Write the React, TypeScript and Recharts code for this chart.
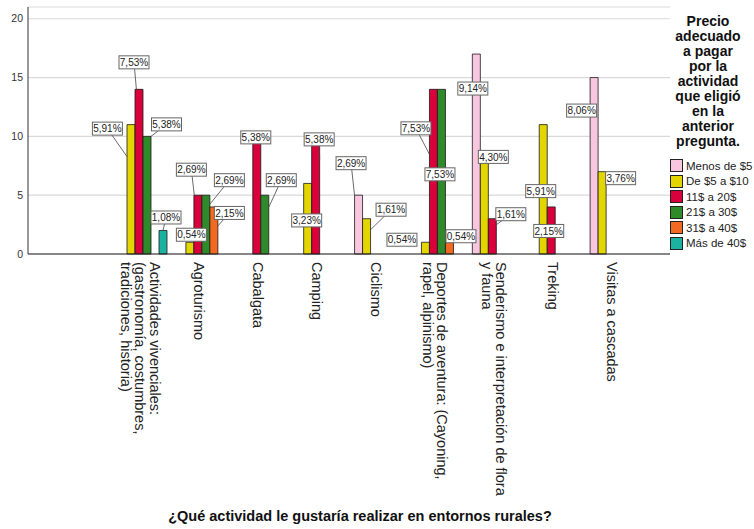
import React from 'react';
import { BarChart, Bar, XAxis, YAxis, CartesianGrid, LabelList } from 'recharts';

const CATEGORIES = [
  'Actividades vivenciales:\n(gastronomía, costumbres,\ntradiciones, historia)',
  'Agroturismo',
  'Cabalgata',
  'Camping',
  'Ciclismo',
  'Deportes de aventura: (Cayoning,\nrapel, alpinismo)',
  'Senderismo e interpretación de flora\ny fauna',
  'Treking',
  'Visitas a cascadas',
];

// counts per price range (null = no bar)
const MENOS_5 = [null, null, null, null, 5, null, 17, null, 15];
const DE_5_A_10 = [11, 1, null, 6, 3, 1, 8, 11, 7];
const DE_11_A_20 = [14, 5, 10, 10, null, 14, 3, 4, null];
const DE_21_A_30 = [10, 5, 5, null, null, 14, null, null, null];
const DE_31_A_40 = [null, 4, null, null, null, 1, null, null, null];
const MAS_40 = [2, null, null, null, null, null, null, null, null];

const SERIES = [
  { key: 's0', name: 'Menos de $5', values: MENOS_5, color: '#f9c6df' },
  { key: 's1', name: 'De $5 a $10', values: DE_5_A_10, color: '#e2d500' },
  { key: 's2', name: '11$ a 20$', values: DE_11_A_20, color: '#d9003b' },
  { key: 's3', name: '21$ a 30$', values: DE_21_A_30, color: '#2f8a2a' },
  { key: 's4', name: '31$ a 40$', values: DE_31_A_40, color: '#f26a22' },
  { key: 's5', name: 'Más de 40$', values: MAS_40, color: '#1bb3a0' },
];

const Y_TICKS = [0, 5, 10, 15, 20];
const LEGEND_TITLE = ['Precio', 'adecuado', 'a pagar', 'por la', 'actividad', 'que eligió', 'en la', 'anterior', 'pregunta.'];
const X_TITLE = '¿Qué actividad le gustaría realizar en entornos rurales?';

const TOTAL = SERIES.reduce(
  (acc, s) => acc + s.values.reduce((a: number, v) => a + (v ?? 0), 0),
  0
);

const data = CATEGORIES.map((name, i) => {
  const row: Record<string, string | number | null> = { name, idx: i };
  SERIES.forEach(s => {
    row[s.key] = s.values[i];
  });
  return row;
});

// label box placement relative to bar top-centre (SPSS moved them around to avoid overlaps)
// [dx, dy, leaderX, leaderY] - leader optional
type Place = [number, number, number?, number?];
const LABEL_PLACE: Record<string, Record<number, Place>> = {
  s0: { 4: [-7.5, -32, -4, 0], 6: [-3.5, 34.5], 8: [-12.5, 33] },
  s1: {
    0: [-23.6, 4, -4, 32],
    1: [1.5, -7.5],
    3: [-1, 37],
    4: [24.5, -9, 4, 11],
    5: [-23.5, -2.5],
    6: [9, -3],
    7: [-2.5, 66.5],
    8: [18.5, 6.5],
  },
  s2: {
    0: [-5, -27, -2.6, 0],
    1: [-6.5, -25.5, -3.6, 0],
    2: [-1, 1],
    3: [3.5, 3, 4, 23],
    5: [-17.5, 39, -4, 65],
    6: [18.5, -4.5, 4, 6],
    7: [-2.5, 24],
  },
  s3: { 0: [19.5, -12, 4, 0], 1: [23.5, -15, 4, 9], 2: [16.5, -15, 4, 12], 5: [-1.5, 85] },
  s4: { 1: [15.5, 6, 4, 19], 5: [11.5, -6] },
  s5: { 0: [3, -13, 0, 0] },
};

const fmtPct = (v: number) => ((v / TOTAL) * 100).toFixed(2).replace('.', ',') + '%';

function makeLabel(seriesKey: string) {
  // eslint-disable-next-line @typescript-eslint/no-explicit-any
  return (props: any) => {
    const vb = props.viewBox ?? props;
    // value comes in as "categoryIndex:count"
    const [idxStr, valStr] = String(props.value ?? '').split(':');
    const index = Number(idxStr);
    const value = Number(valStr);
    if (!value) return null;
    const place = LABEL_PLACE[seriesKey]?.[index];
    if (!place) return null;
    const x = Number(vb.x ?? props.x);
    const y = Number(vb.y ?? props.y);
    const w = Number(vb.width ?? props.width);
    const bx = x + w / 2;
    const cx = bx + place[0];
    const cy = y + place[1];
    const bw = 30;
    const bh = 13;
    return (
      <g>
        {place[2] !== undefined && (
          <line x1={cx} y1={cy} x2={bx + (place[2] as number)} y2={y + (place[3] as number)} stroke="#444" strokeWidth={0.8} />
        )}
        <rect x={cx - bw / 2} y={cy - bh / 2} width={bw} height={bh} fill="#fff" stroke="#666" strokeWidth={1} />
        <text x={cx} y={cy + 3.6} textAnchor="middle" fontSize={10} fill="#222" fontFamily="Liberation Sans, Arial, sans-serif">
          {fmtPct(value)}
        </text>
      </g>
    );
  };
}

// eslint-disable-next-line @typescript-eslint/no-explicit-any
const XTick = (props: any) => {
  const x = Number(props.x ?? 0);
  const y = Number(props.y ?? 0);
  const lines = String(props.payload?.value ?? '').split('\n');
  const lh = 14.5;
  return (
    <g transform={`translate(${x},${y}) rotate(90)`}>
      <text textAnchor="start" fontSize={14.5} fill="#222" fontFamily="Liberation Sans, Arial, sans-serif">
        {lines.map((l, j) => (
          <tspan key={j} x={0} y={(j - (lines.length - 1) / 2) * lh + 8}>
            {l}
          </tspan>
        ))}
      </text>
    </g>
  );
};

export default function App() {
  return (
    <div style={{ position: 'absolute', left: 0, top: 0, width: 754, height: 529, background: '#fff', fontFamily: 'Liberation Sans, Arial, sans-serif' }}>
      <BarChart
        width={754}
        height={529}
        data={data}
        margin={{ top: 7, right: 84, bottom: 0, left: 0 }}
        barGap={0}
        barSize={8}
      >
        <CartesianGrid vertical={false} stroke="#d9d9d9" strokeWidth={1.2} />
        <XAxis
          dataKey="name"
          height={275}
          interval={0}
          padding={{ left: 86, right: 26 }}
          tickLine={false}
          axisLine={{ stroke: '#222' }}
          tick={<XTick />}
        />
        <XAxis xAxisId="lbl" dataKey="name" hide padding={{ left: 86, right: 26 }} />
        <YAxis
          width={28}
          domain={[0, 21]}
          ticks={Y_TICKS}
          tickLine={false}
          tickSize={3}
          axisLine={{ stroke: '#333' }}
          tick={{ fontSize: 10.5, fill: '#333' }}
        />
        {SERIES.map(s => (
          <Bar
            key={s.key}
            dataKey={s.key}
            name={s.name}
            fill={s.color}
            stroke="#1a1a1a"
            strokeWidth={0.8}
            isAnimationActive={false}
          />
        ))}
        {SERIES.map(s => (
          <Bar
            key={`${s.key}-lbl`}
            xAxisId="lbl"
            dataKey={s.key}
            fill="transparent"
            stroke="none"
            isAnimationActive={false}
            legendType="none"
          >
            <LabelList
              // eslint-disable-next-line @typescript-eslint/no-explicit-any
              dataKey={(row: any) => `${row.idx}:${row[s.key] ?? 0}`}
              content={makeLabel(s.key)}
            />
          </Bar>
        ))}
      </BarChart>

      <div style={{ position: 'absolute', left: 661, top: 14, width: 94, textAlign: 'center', fontWeight: 'bold', fontSize: 14, lineHeight: '15px', color: '#111' }}>
        {LEGEND_TITLE.map(t => (
          <div key={t}>{t}</div>
        ))}
      </div>
      <div style={{ position: 'absolute', left: 670, top: 158, fontSize: 11.5, color: '#222' }}>
        {SERIES.map(s => (
          <div key={s.key} style={{ display: 'flex', alignItems: 'center', height: 15.5 }}>
            <div style={{ width: 11, height: 11, background: s.color, border: '1px solid #222', marginRight: 3 }} />
            <span>{s.name}</span>
          </div>
        ))}
      </div>
      <div style={{ position: 'absolute', left: 0, width: 720, top: 508, textAlign: 'center', fontWeight: 'bold', fontSize: 14.5, color: '#111' }}>
        {X_TITLE}
      </div>
    </div>
  );
}
